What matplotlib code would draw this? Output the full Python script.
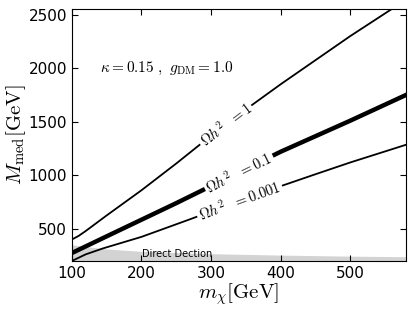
import numpy as np
import matplotlib
matplotlib.use("Agg")
import matplotlib.pyplot as plt

plt.rcParams['mathtext.fontset'] = 'cm'

# relic density contours
m_1 = [100, 110, 120, 150, 200, 250, 300, 350, 400, 450, 500, 559]
M_1 = [400, 435, 480, 625, 860, 1110, 1370, 1615, 1850, 2075, 2300, 2550]

m_01 = [100, 150, 200, 250, 300, 350, 400, 450, 500, 580]
M_01 = [274, 430, 585, 740, 900, 1060, 1220, 1365, 1510, 1750]

m_0001 = [100, 120, 145, 200, 270, 330, 394, 450, 500, 580]
M_0001 = [200, 262, 318, 425, 590, 735, 885, 1010, 1120, 1285]

# direct detection excluded band
m_dd = [100, 120, 150, 200, 300, 400, 500, 580]
M_dd = [352, 335, 312, 290, 268, 255, 245, 240]

labels = [r'$\Omega h^2\ \ =1$', r'$\Omega h^2\ \ =0.1$', r'$\Omega h^2\ \ =0.001$']
label_x = [321, 340, 341]

fig = plt.figure(figsize=(4.15, 3.12), dpi=100)
ax = fig.add_axes([0.173, 0.1635, 0.805, 0.8065])
ax.set_xlim(100, 580)
ax.set_ylim(200, 2550)

ax.fill_between(m_dd, 0, M_dd, color='#d3d3d3', lw=0)

curves = [(m_1, M_1, 1.3), (m_01, M_01, 3.2), (m_0001, M_0001, 1.3)]
for (xs, ys, lw), lab, lx in zip(curves, labels, label_x):
    ax.plot(xs, ys, color='k', lw=lw)
    ly = np.interp(lx, xs, ys)
    p1 = ax.transData.transform((lx - 10, np.interp(lx - 10, xs, ys)))
    p2 = ax.transData.transform((lx + 10, np.interp(lx + 10, xs, ys)))
    ang = np.degrees(np.arctan2(p2[1] - p1[1], p2[0] - p1[0]))
    ax.text(lx, ly, lab, fontsize=10.5, rotation=ang, rotation_mode='anchor',
            ha='center', va='center',
            bbox=dict(facecolor='white', edgecolor='none', pad=1.5))

ax.text(237, 2002, r'$\kappa=0.15\ ,\ g_{\rm DM}=1.0$', fontsize=11,
        ha='center', va='center')
ax.text(252, 262, 'Direct Dection', fontsize=7, ha='center', va='center')

ax.set_xticks([100, 200, 300, 400, 500])
ax.set_yticks([500, 1000, 1500, 2000, 2500])
ax.tick_params(direction='in', top=True, right=True, labelsize=11, length=4)
ax.set_xlabel(r'$m_\chi[\mathrm{GeV}]$', fontsize=15, labelpad=0)
ax.set_ylabel(r'$M_{\mathrm{med}}[\mathrm{GeV}]$', fontsize=15, labelpad=0)

fig.savefig('out.png', dpi=100)
